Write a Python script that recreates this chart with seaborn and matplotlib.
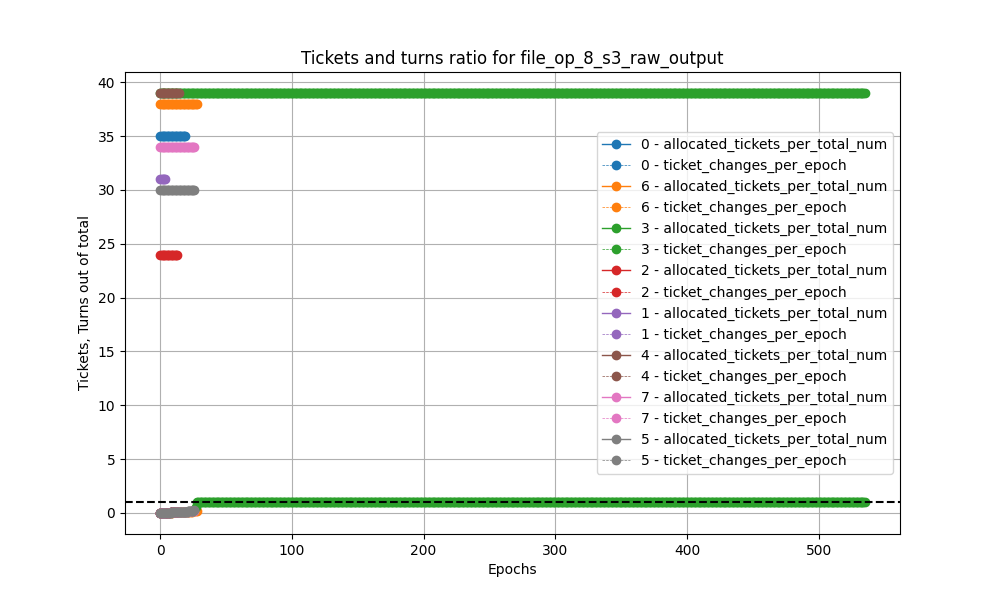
"""Tickets and turns ratio per process, redrawn with seaborn lineplots."""

import matplotlib

matplotlib.use("Agg")
import matplotlib.pyplot as plt
import numpy as np
import seaborn as sns

TITLE = "Tickets and turns ratio for file_op_8_s3_raw_output"

# process ids in plotting order, with their allocated ticket share (constant)
PROCESSES = ["0", "6", "3", "2", "1", "4", "7", "5"]
ALLOCATED = [35, 38, 39, 24, 31, 39, 34, 30]
N_EPOCHS = [20, 29, 536, 14, 5, 15, 27, 27]

# ticket_changes_per_epoch
CHANGES_0 = [0.0, 0.0, 0.01, 0.01, 0.02, 0.03, 0.03, 0.04, 0.05, 0.05,
             0.06, 0.07, 0.07, 0.08, 0.09, 0.09, 0.1, 0.11, 0.11, 0.12]
CHANGES_6 = [0.0, 0.0, 0.01, 0.01, 0.02, 0.02, 0.03, 0.03, 0.04, 0.04,
             0.05, 0.05, 0.06, 0.06, 0.07, 0.07, 0.08, 0.08, 0.09, 0.09,
             0.1, 0.1, 0.11, 0.12, 0.13, 0.14, 0.15, 0.16, 0.17]
CHANGES_3_HEAD = [0.0, 0.0, 0.01, 0.01, 0.02, 0.02, 0.03, 0.03, 0.04, 0.05,
                  0.05, 0.06, 0.06, 0.07, 0.08, 0.08, 0.09, 0.1, 0.1, 0.11,
                  0.12, 0.13, 0.14, 0.16, 0.18, 0.22, 0.3, 0.55]
CHANGES_3_TAIL = 1.0
CHANGES_2 = [0.0, 0.0, 0.01, 0.02, 0.02, 0.03, 0.04, 0.04, 0.05, 0.06,
             0.06, 0.07, 0.08, 0.08]
CHANGES_1 = [0.0, 0.0, 0.01, 0.02, 0.02]
CHANGES_4 = [0.0, 0.0, 0.01, 0.01, 0.02, 0.03, 0.03, 0.04, 0.05, 0.05,
             0.06, 0.07, 0.07, 0.08, 0.09]
CHANGES_7 = [0.0, 0.0, 0.01, 0.01, 0.02, 0.02, 0.03, 0.04, 0.04, 0.05,
             0.05, 0.06, 0.07, 0.07, 0.08, 0.09, 0.09, 0.1, 0.11, 0.11,
             0.12, 0.13, 0.14, 0.15, 0.16, 0.17, 0.18]
CHANGES_5 = [0.0, 0.0, 0.01, 0.01, 0.02, 0.02, 0.03, 0.04, 0.04, 0.05,
             0.05, 0.06, 0.07, 0.07, 0.08, 0.09, 0.09, 0.1, 0.11, 0.12,
             0.13, 0.14, 0.15, 0.17, 0.19, 0.22, 0.26]

REFERENCE_LINE = 1.0


def changes_for(pid, n):
    if pid == "3":
        return CHANGES_3_HEAD + [CHANGES_3_TAIL] * (n - len(CHANGES_3_HEAD))
    return {"0": CHANGES_0, "6": CHANGES_6, "2": CHANGES_2, "1": CHANGES_1,
            "4": CHANGES_4, "7": CHANGES_7, "5": CHANGES_5}[pid]


def main() -> None:
    fig, ax = plt.subplots(figsize=(10, 6), dpi=100)
    colors = sns.color_palette("tab10")

    for i, (pid, alloc, n) in enumerate(zip(PROCESSES, ALLOCATED, N_EPOCHS)):
        epochs = np.arange(n)
        c = colors[i]
        sns.lineplot(x=epochs, y=np.full(n, alloc), marker="o", color=c,
                     linewidth=1, markersize=6, markeredgecolor=c,
                     markeredgewidth=1, estimator=None, ax=ax,
                     label=f"{pid} - allocated_tickets_per_total_num")
        sns.lineplot(x=epochs, y=changes_for(pid, n), marker="o", color=c,
                     linewidth=0.5, linestyle="--", markersize=6,
                     markeredgecolor=c, markeredgewidth=1, estimator=None,
                     ax=ax, label=f"{pid} - ticket_changes_per_epoch")

    ax.axhline(REFERENCE_LINE, color="black", linestyle="--", linewidth=1.5)
    ax.set_title(TITLE)
    ax.set_xlabel("Epochs")
    ax.set_ylabel("Tickets, Turns out of total")
    ax.grid(True)
    ax.legend(loc="center right")

    fig.savefig("out.png", dpi=100)
    plt.close(fig)


if __name__ == "__main__":
    main()
